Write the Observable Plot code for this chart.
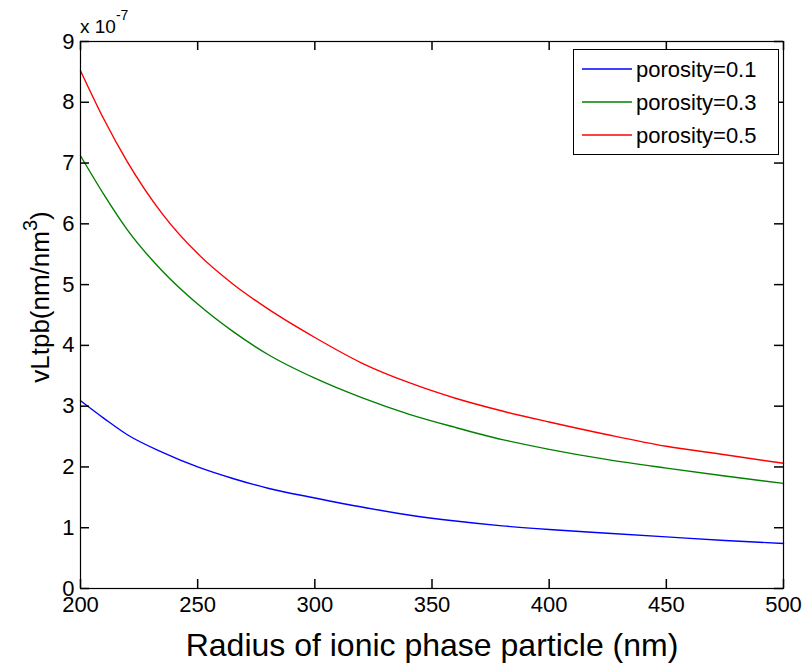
<!DOCTYPE html>
<html><head><meta charset="utf-8">
<script src="https://cdn.jsdelivr.net/npm/d3@7"></script>
<script src="https://cdn.jsdelivr.net/npm/@observablehq/plot@0.6"></script>
<style>
body{margin:0;background:#fff;}
#wrap{position:relative;width:803px;height:665px;}
</style>
</head><body><div id="wrap"></div>
<script>
// Data (y values in units of 1e-7 nm/nm^3)
const radius = [200,210,220,235,250,265,280,300,320,340,360,380,400,425,450,475,500];
const porosity01 = [3.09,2.80,2.53,2.24,2.00,1.81,1.65,1.49,1.34,1.21,1.11,1.03,0.97,0.91,0.85,0.79,0.74];
const porosity03 = [7.12,6.48,5.90,5.22,4.68,4.23,3.85,3.46,3.14,2.87,2.65,2.45,2.29,2.12,1.98,1.85,1.73];
const porosity05 = [8.52,7.72,7.02,6.16,5.51,5.01,4.60,4.13,3.71,3.39,3.13,2.92,2.74,2.53,2.34,2.20,2.06];
const seriesNames = ["porosity=0.1","porosity=0.3","porosity=0.5"];
const seriesColors = ["#0000ff","#008000","#ff0000"];
const xTicks = [200,250,300,350,400,450,500];
const yTicks = [0,1,2,3,4,5,6,7,8,9];
const yExponent = "-7";
const xLabel = "Radius of ionic phase particle (nm)";
const yLabelMain = "vLtpb(nm/nm";
const yLabelSup = "3";
const yLabelEnd = ")";

const FONT = '"Liberation Sans", Arial, Helvetica, sans-serif';
const seriesValues = [porosity01, porosity03, porosity05];
const data = [];
seriesNames.forEach((s, i) => radius.forEach((r, j) => data.push({x: r, y: seriesValues[i][j], series: s})));

const W = 803, H = 665, ML = 80, MR = 20, MT = 41, MB = 77;
const PW = W - ML - MR, PH = H - MT - MB;
const xDom = [200, 500], yDom = [0, 9];
const TS = 9;
// tick length expressed in each scale's units so the rules are drawn through the scales
const tx = (xDom[1] - xDom[0]) * TS / PW;
const ty = (yDom[1] - yDom[0]) * TS / PH;
const fmt = d => String(d);
const chart = Plot.plot({
  width: W, height: H,
  marginLeft: ML, marginRight: MR, marginTop: MT, marginBottom: MB,
  style: {fontFamily: FONT, fontSize: "22px", color: "#000", background: "#fff"},
  x: {domain: xDom},
  y: {domain: yDom},
  color: {domain: seriesNames, range: seriesColors},
  marks: [
    Plot.line(data, {x: "x", y: "y", stroke: "series", strokeWidth: 1.4, curve: "monotone-x"}),
    Plot.axisX(xTicks, {anchor: "bottom", tickSize: 0, tickPadding: 8, tickFormat: fmt, fontSize: 22, label: null}),
    Plot.axisY(yTicks, {anchor: "left", tickSize: 0, tickPadding: 6, tickFormat: fmt, fontSize: 22, label: null}),
    Plot.ruleX(xTicks, {x: d => d, y1: yDom[0], y2: yDom[0] + ty, stroke: "#000", strokeWidth: 1.5}),
    Plot.ruleX(xTicks, {x: d => d, y1: yDom[1], y2: yDom[1] - ty, stroke: "#000", strokeWidth: 1.5}),
    Plot.ruleY(yTicks, {y: d => d, x1: xDom[0], x2: xDom[0] + tx, stroke: "#000", strokeWidth: 1.5}),
    Plot.ruleY(yTicks, {y: d => d, x1: xDom[1], x2: xDom[1] - tx, stroke: "#000", strokeWidth: 1.5}),
    Plot.frame({stroke: "#000", strokeWidth: 1.2}),
    Plot.text([xLabel], {frameAnchor: "bottom", dy: 67, lineAnchor: "bottom", fontSize: 32, fill: "#000"})
  ]
});
document.getElementById("wrap").appendChild(chart);

const svg = d3.select(chart);

// y label
const yl = svg.append("text")
  .attr("transform", "translate(49,297) rotate(-90)")
  .attr("text-anchor", "middle")
  .attr("font-family", FONT).attr("font-size", 26).attr("fill", "#000");
yl.append("tspan").text(yLabelMain);
yl.append("tspan").attr("font-size", 20).attr("dy", -12).text(yLabelSup);
yl.append("tspan").attr("dy", 12).text(yLabelEnd);

// exponent
const ex = svg.append("text").attr("x", 80).attr("y", 33).attr("text-anchor", "start")
  .attr("font-family", FONT).attr("font-size", 19).attr("fill", "#000");
ex.append("tspan").text("x 10");
ex.append("tspan").attr("font-size", 14).attr("dy", -13).text(yExponent);

// legend
const lg = svg.append("g").attr("transform", "translate(573,49)");
lg.append("rect").attr("x", 0.5).attr("y", 0.5).attr("width", 205).attr("height", 105)
  .attr("fill", "#fff").attr("stroke", "#000").attr("stroke-width", 1);
seriesNames.forEach((s, i) => {
  const cy = 20 + i * 33;
  lg.append("line").attr("x1", 9).attr("x2", 59).attr("y1", cy).attr("y2", cy)
    .attr("stroke", seriesColors[i]).attr("stroke-width", 1.4);
  lg.append("text").attr("x", 63).attr("y", cy).attr("dy", "0.35em").attr("text-anchor", "start")
    .attr("font-family", FONT).attr("font-size", 22).attr("fill", "#000").text(s);
});
</script>
</body></html>
